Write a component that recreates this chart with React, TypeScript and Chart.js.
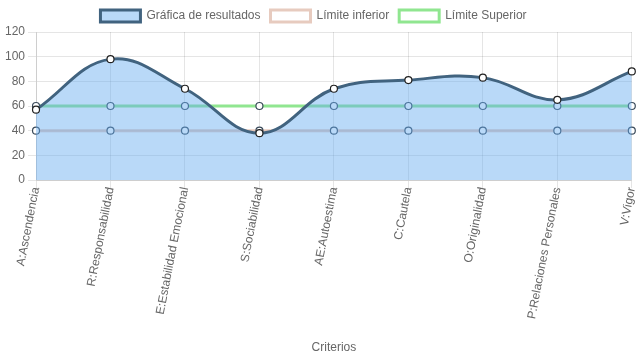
import React, { useEffect, useRef } from "react";
import { Chart, registerables } from "chart.js";

Chart.register(...registerables);

const categories = [
  "A:Ascendencia",
  "R:Responsabilidad",
  "E:Estabilidad Emocional",
  "S:Sociabilidad",
  "AE:Autoestima",
  "C:Cautela",
  "O:Originalidad",
  "P:Relaciones Personales",
  "V:Vigor",
];
const resultados = [57, 98, 74, 38, 74, 81, 83, 65, 88];
const limiteInferior = [40, 40, 40, 40, 40, 40, 40, 40, 40];
const limiteSuperior = [60, 60, 60, 60, 60, 60, 60, 60, 60];
const yTicks = { min: 0, max: 120, step: 20 };

const legendShift = {
  id: "legendShift",
  afterLayout(chart: any) {
    if (chart.legend) {
      chart.legend.left -= 6;
      chart.legend.right -= 6;
    }
  },
};

export default function App() {
  const ref = useRef<HTMLCanvasElement | null>(null);
  useEffect(() => {
    document.body.style.margin = "0";
    Chart.defaults.font.family = "'Liberation Sans', Arial, sans-serif";
    Chart.defaults.font.size = 12;
    Chart.defaults.color = "#666";
    const chart = new Chart(ref.current!, {
      type: "line",
      data: {
        labels: categories,
        datasets: [
          {
            label: "Gráfica de resultados",
            data: resultados,
            borderColor: "#41637f",
            backgroundColor: "rgba(100,170,240,0.45)",
            borderWidth: 3,
            fill: "origin",
            tension: 0.4,
            pointRadius: 3.5,
            pointBackgroundColor: "#fff",
            pointBorderColor: "#222",
            pointBorderWidth: 1.2,
          },
          {
            label: "Límite inferior",
            data: limiteInferior,
            borderColor: "rgba(225,190,175,0.8)",
            backgroundColor: "#fff",
            borderWidth: 3,
            fill: false,
            tension: 0.4,
            pointRadius: 3.5,
            pointBackgroundColor: "#fff",
            pointBorderColor: "#3a4a5a",
            pointBorderWidth: 1.2,
          },
          {
            label: "Límite Superior",
            data: limiteSuperior,
            borderColor: "rgba(144,230,144,1)",
            backgroundColor: "#fff",
            borderWidth: 3,
            fill: false,
            tension: 0.4,
            pointRadius: 3.5,
            pointBackgroundColor: "#fff",
            pointBorderColor: "#3a4a5a",
            pointBorderWidth: 1.2,
          },
        ],
      },
      plugins: [legendShift],
      options: {
        animation: false,
        responsive: false,
        maintainAspectRatio: false,
        layout: { padding: { left: 2, right: 0, top: 0, bottom: 0 } },
        plugins: {
          legend: {
            position: "top",
            labels: { boxWidth: 40, boxHeight: 12, color: "#666" },
          },
          tooltip: { enabled: false },
        },
        scales: {
          x: {
            grid: { color: "rgba(0,0,0,0.1)" },
            ticks: { minRotation: 79, maxRotation: 79, autoSkip: false, color: "#666", padding: -2 },
            title: { display: true, text: "Criterios", color: "#666" },
            afterFit: (scale: any) => {
              scale.height = 179;
              scale.paddingRight = 4;
            },
          },
          y: {
            min: yTicks.min,
            max: yTicks.max,
            grid: { color: "rgba(0,0,0,0.1)" },
            ticks: { stepSize: yTicks.step, color: "#666" },
          },
        },
      },
    });
    return () => chart.destroy();
  }, []);
  return (
    <div style={{ position: "absolute", left: 0, top: 0, width: 637, height: 359 }}>
      <canvas ref={ref} width={637} height={359} />
    </div>
  );
}
